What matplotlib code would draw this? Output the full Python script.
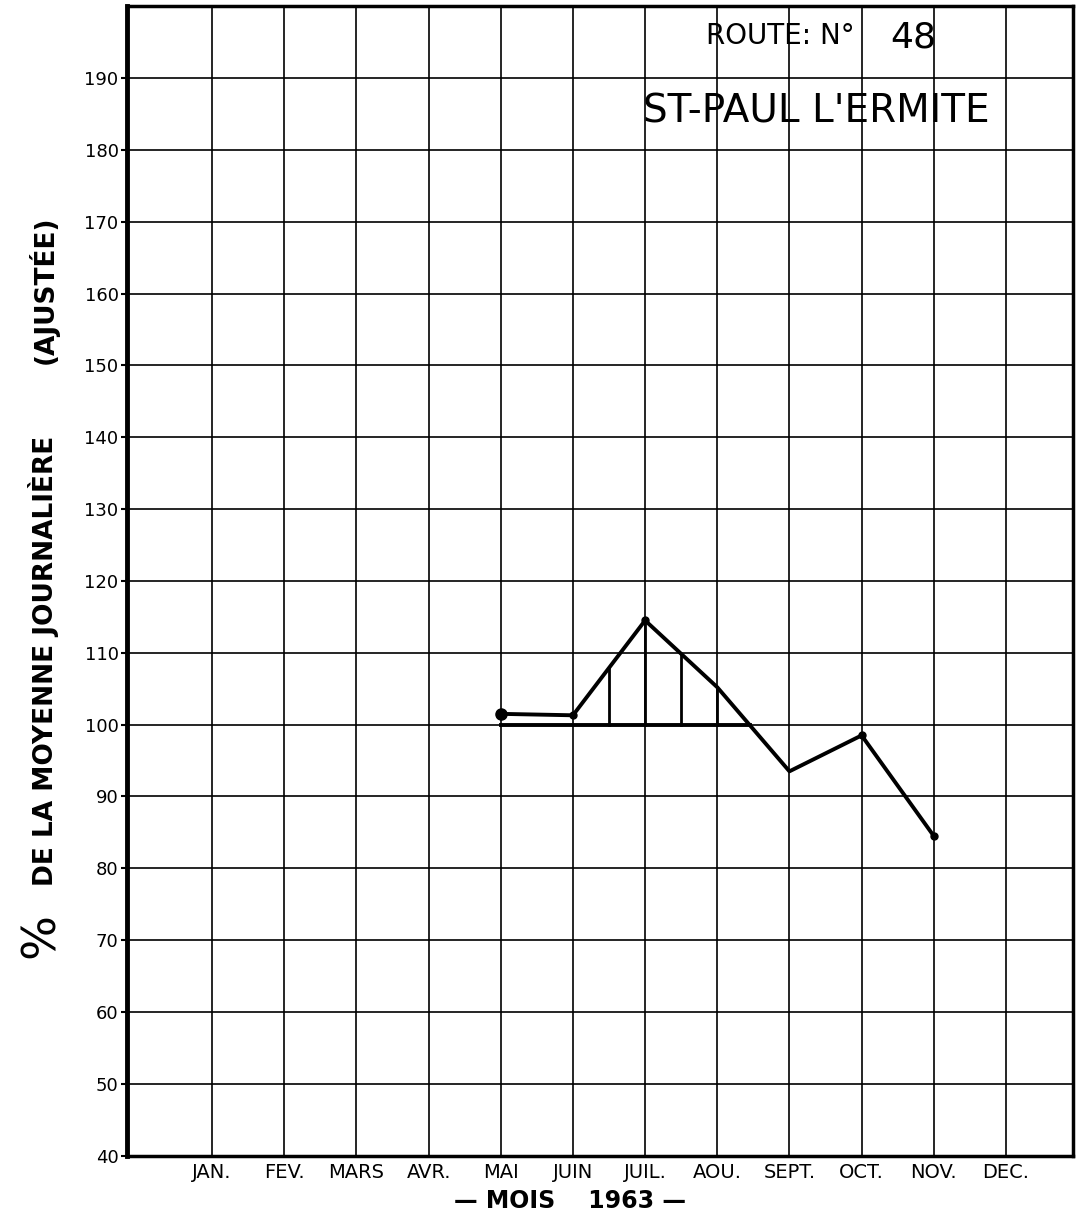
import matplotlib.pyplot as plt
import numpy as np

# Data
months = ['JAN.', 'FEV.', 'MARS', 'AVR.', 'MAI', 'JUIN', 'JUIL.', 'AOU.', 'SEPT.', 'OCT.', 'NOV.', 'DEC.']
obs_months = [5, 6, 7, 8, 9, 10, 11]
obs_values = [101.5, 101.3, 114.5, 105.2, 93.5, 98.5, 84.5]
marked_months = [5, 6, 7, 10, 11]
marked_values = [101.5, 101.3, 114.5, 98.5, 84.5]
base_value = 100
hatch_months = [6.5, 7, 7.5, 8]
yticks = list(range(40, 200, 10))

fig = plt.figure(figsize=(10.85, 12.23), dpi=100)
ax = fig.add_axes([0.117, 0.055, 0.872, 0.94])

ax.set_xlim(-0.18, 12.93)
ax.set_ylim(40, 200)

# grid
ax.set_xticks(range(1, 13))
ax.set_xticklabels(months, fontsize=14)
ax.set_yticks(yticks)
ax.set_yticklabels([str(v) for v in yticks], fontsize=13)
ax.grid(True, color='black', linewidth=1.2)
ax.tick_params(axis='x', length=0, pad=5)
ax.tick_params(axis='y', length=4, width=1.5, pad=2)
for side, lw in [('left', 3.5), ('bottom', 2.5), ('top', 2.5), ('right', 2.5)]:
    ax.spines[side].set_linewidth(lw)

# curve
ax.plot(obs_months, obs_values, color='black', linewidth=2.8, zorder=5)
ax.plot(marked_months, marked_values, 'o', color='black', markersize=5, zorder=6)
ax.plot([obs_months[0]], [obs_values[0]], 'o', color='black', markersize=8, zorder=6)

# baseline at 100 up to where the curve crosses it
x_dense = np.linspace(obs_months[2], obs_months[4], 500)
y_dense = np.interp(x_dense, obs_months, obs_values)
x_cross = x_dense[np.argmax(y_dense < base_value)]
ax.plot([obs_months[0], x_cross], [base_value, base_value], color='black', linewidth=2.8, zorder=5)

# vertical hatching between baseline and curve
for xm in hatch_months:
    ax.plot([xm, xm], [base_value, np.interp(xm, obs_months, obs_values)],
            color='black', linewidth=2, zorder=5)

# titles inside the grid
ax.text(0.612, 0.974, 'ROUTE: N°', transform=ax.transAxes, fontsize=20, va='center', ha='left')
ax.text(0.807, 0.973, '48', transform=ax.transAxes, fontsize=26, va='center', ha='left')
ax.text(0.545, 0.908, "ST-PAUL L'ERMITE", transform=ax.transAxes, fontsize=28, va='center', ha='left')

# axis titles
fig.text(0.525, 0.018, '— MOIS    1963 —', fontsize=17, fontweight='bold', ha='center', va='center')
fig.text(0.038, 0.235, '%', fontsize=34, rotation=90, ha='center', va='center')
fig.text(0.040, 0.460, 'DE LA MOYENNE JOURNALIÈRE', fontsize=19, fontweight='bold',
         rotation=90, ha='center', va='center')
fig.text(0.040, 0.763, '(AJUSTÉE)', fontsize=19, fontweight='bold', rotation=90, ha='center', va='center')

fig.savefig('out.png', dpi=100)
